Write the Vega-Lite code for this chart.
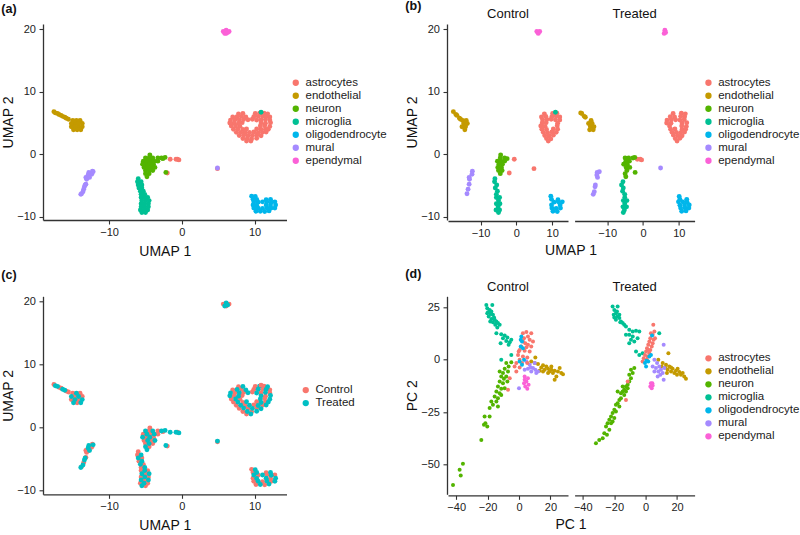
{
"$schema": "https://vega.github.io/schema/vega-lite/v6.json",
"background": "white",
"padding": {"left": 0, "top": 0, "right": 0, "bottom": 0},
"config": {
  "font": "Liberation Sans",
  "view": {"stroke": "transparent"},
  "circle": {"size": 24, "opacity": 1},
  "axis": {"grid": false, "domainColor": "#333333", "domainWidth": 1.3, "tickColor": "#333333", "tickWidth": 1.1, "tickSize": 4, "labelFontSize": 11, "labelColor": "#222222", "titleFontSize": 14, "titleFontWeight": "normal", "titleColor": "#111111"},
  "axisX": {"labelPadding": 2, "titlePadding": 7},
  "axisY": {"labelPadding": 3.5, "titlePadding": 1.5},
  "header": {"labelFontSize": 13, "labelColor": "#111111", "titleFontSize": 14, "titleFontWeight": "normal", "titleColor": "#111111"},
  "legend": {"labelFontSize": 11.5, "labelColor": "#222222", "symbolSize": 40, "symbolType": "circle", "rowPadding": 0, "labelOffset": 4, "padding": 0, "symbolStrokeWidth": 0, "symbolOpacity": 1},
  "title": {"fontSize": 12.5, "fontWeight": "bold", "anchor": "start", "frame": "bounds", "color": "#111111"}
},
"datasets": {
"umap": [
{"x":7.8,"y":6.45,"t":"astrocytes","g":"Control"},{"x":10.1,"y":6.5,"t":"astrocytes","g":"Control"},{"x":11.3,"y":6.55,"t":"astrocytes","g":"Control"},
{"x":7.0,"y":5.95,"t":"astrocytes","g":"Control"},{"x":8.2,"y":6.05,"t":"astrocytes","g":"Control"},{"x":9.9,"y":6.0,"t":"astrocytes","g":"Control"},{"x":11.1,"y":6.1,"t":"astrocytes","g":"Control"},{"x":12.1,"y":5.95,"t":"astrocytes","g":"Control"},
{"x":7.3,"y":5.5,"t":"astrocytes","g":"Control"},{"x":8.5,"y":5.55,"t":"astrocytes","g":"Control"},{"x":9.7,"y":5.6,"t":"astrocytes","g":"Control"},{"x":10.9,"y":5.5,"t":"astrocytes","g":"Control"},{"x":12.1,"y":5.45,"t":"astrocytes","g":"Control"},
{"x":7.2,"y":5.0,"t":"astrocytes","g":"Control"},{"x":8.3,"y":5.05,"t":"astrocytes","g":"Control"},{"x":11.5,"y":4.95,"t":"astrocytes","g":"Control"},
{"x":6.8,"y":4.5,"t":"astrocytes","g":"Control"},{"x":8.0,"y":4.45,"t":"astrocytes","g":"Control"},{"x":11.4,"y":4.55,"t":"astrocytes","g":"Control"},
{"x":7.1,"y":4.0,"t":"astrocytes","g":"Control"},{"x":8.4,"y":3.95,"t":"astrocytes","g":"Control"},{"x":10.3,"y":4.05,"t":"astrocytes","g":"Control"},{"x":11.5,"y":4.0,"t":"astrocytes","g":"Control"},
{"x":7.5,"y":3.5,"t":"astrocytes","g":"Control"},{"x":8.7,"y":3.45,"t":"astrocytes","g":"Control"},{"x":9.9,"y":3.55,"t":"astrocytes","g":"Control"},{"x":11.1,"y":3.5,"t":"astrocytes","g":"Control"},
{"x":7.9,"y":3.0,"t":"astrocytes","g":"Control"},{"x":9.1,"y":2.95,"t":"astrocytes","g":"Control"},{"x":10.3,"y":3.05,"t":"astrocytes","g":"Control"},
{"x":8.4,"y":2.5,"t":"astrocytes","g":"Control"},{"x":9.6,"y":2.45,"t":"astrocytes","g":"Control"},{"x":8.9,"y":2.1,"t":"astrocytes","g":"Control"},
{"x":-0.6,"y":-0.8,"t":"astrocytes","g":"Control"},{"x":-2.0,"y":-3.0,"t":"astrocytes","g":"Control"},{"x":4.9,"y":-2.3,"t":"astrocytes","g":"Control"},
{"x":-17.6,"y":6.8,"t":"endothelial","g":"Control"},{"x":-16.6,"y":6.2,"t":"endothelial","g":"Control"},{"x":-15.6,"y":5.6,"t":"endothelial","g":"Control"},{"x":-16.9,"y":6.35,"t":"endothelial","g":"Control"},{"x":-15.9,"y":5.75,"t":"endothelial","g":"Control"},
{"x":-15.0,"y":5.4,"t":"endothelial","g":"Control"},{"x":-14.0,"y":5.4,"t":"endothelial","g":"Control"},{"x":-14.7,"y":4.9,"t":"endothelial","g":"Control"},{"x":-13.7,"y":4.9,"t":"endothelial","g":"Control"},{"x":-15.2,"y":4.4,"t":"endothelial","g":"Control"},{"x":-14.2,"y":4.4,"t":"endothelial","g":"Control"},{"x":-14.4,"y":3.9,"t":"endothelial","g":"Control"},
{"x":-4.4,"y":-0.1,"t":"neuron","g":"Control"},{"x":-4.5,"y":-0.6,"t":"neuron","g":"Control"},{"x":-3.3,"y":-0.6,"t":"neuron","g":"Control"},{"x":-2.6,"y":-0.7,"t":"neuron","g":"Control"},{"x":-5.3,"y":-1.1,"t":"neuron","g":"Control"},{"x":-4.3,"y":-1.1,"t":"neuron","g":"Control"},{"x":-3.3,"y":-1.1,"t":"neuron","g":"Control"},{"x":-4.9,"y":-1.6,"t":"neuron","g":"Control"},{"x":-3.9,"y":-1.6,"t":"neuron","g":"Control"},{"x":-5.2,"y":-2.1,"t":"neuron","g":"Control"},{"x":-4.2,"y":-2.1,"t":"neuron","g":"Control"},{"x":-5.0,"y":-2.6,"t":"neuron","g":"Control"},{"x":-4.0,"y":-2.6,"t":"neuron","g":"Control"},{"x":-4.5,"y":-3.1,"t":"neuron","g":"Control"},
{"x":-6.0,"y":-3.9,"t":"microglia","g":"Control"},{"x":-6.1,"y":-4.4,"t":"microglia","g":"Control"},{"x":-5.5,"y":-4.9,"t":"microglia","g":"Control"},{"x":-5.9,"y":-5.4,"t":"microglia","g":"Control"},{"x":-5.3,"y":-5.9,"t":"microglia","g":"Control"},{"x":-5.6,"y":-6.4,"t":"microglia","g":"Control"},{"x":-5.6,"y":-6.9,"t":"microglia","g":"Control"},{"x":-4.7,"y":-6.9,"t":"microglia","g":"Control"},{"x":-5.0,"y":-7.4,"t":"microglia","g":"Control"},{"x":-5.6,"y":-7.9,"t":"microglia","g":"Control"},{"x":-4.6,"y":-7.9,"t":"microglia","g":"Control"},{"x":-5.1,"y":-8.4,"t":"microglia","g":"Control"},{"x":-5.7,"y":-8.9,"t":"microglia","g":"Control"},{"x":-4.7,"y":-8.9,"t":"microglia","g":"Control"},{"x":-5.0,"y":-9.3,"t":"microglia","g":"Control"},
{"x":9.6,"y":-6.7,"t":"oligodendrocyte","g":"Control"},{"x":9.8,"y":-7.2,"t":"oligodendrocyte","g":"Control"},{"x":11.6,"y":-7.25,"t":"oligodendrocyte","g":"Control"},{"x":10.5,"y":-7.65,"t":"oligodendrocyte","g":"Control"},{"x":11.7,"y":-7.6,"t":"oligodendrocyte","g":"Control"},{"x":12.8,"y":-7.6,"t":"oligodendrocyte","g":"Control"},{"x":9.8,"y":-8.1,"t":"oligodendrocyte","g":"Control"},{"x":12.2,"y":-8.1,"t":"oligodendrocyte","g":"Control"},{"x":9.9,"y":-8.6,"t":"oligodendrocyte","g":"Control"},{"x":11.1,"y":-8.65,"t":"oligodendrocyte","g":"Control"},{"x":12.3,"y":-8.6,"t":"oligodendrocyte","g":"Control"},{"x":10.2,"y":-9.1,"t":"oligodendrocyte","g":"Control"},{"x":11.4,"y":-9.15,"t":"oligodendrocyte","g":"Control"},
{"x":-12.3,"y":-2.7,"t":"mural","g":"Control"},{"x":-12.4,"y":-3.2,"t":"mural","g":"Control"},{"x":-13.2,"y":-3.7,"t":"mural","g":"Control"},{"x":-13.1,"y":-4.0,"t":"mural","g":"Control"},{"x":-13.2,"y":-4.8,"t":"mural","g":"Control"},{"x":-13.5,"y":-5.6,"t":"mural","g":"Control"},{"x":-13.8,"y":-6.3,"t":"mural","g":"Control"},
{"x":5.7,"y":19.6,"t":"ependymal","g":"Control"},{"x":6.5,"y":19.6,"t":"ependymal","g":"Control"},{"x":6.1,"y":19.3,"t":"ependymal","g":"Control"},
{"x":8.4,"y":6.5,"t":"astrocytes","g":"Treated"},{"x":10.7,"y":6.55,"t":"astrocytes","g":"Treated"},{"x":11.8,"y":6.45,"t":"astrocytes","g":"Treated"},
{"x":7.6,"y":6.0,"t":"astrocytes","g":"Treated"},{"x":8.8,"y":5.95,"t":"astrocytes","g":"Treated"},{"x":10.5,"y":6.05,"t":"astrocytes","g":"Treated"},{"x":11.6,"y":6.0,"t":"astrocytes","g":"Treated"},
{"x":6.7,"y":5.45,"t":"astrocytes","g":"Treated"},{"x":7.9,"y":5.5,"t":"astrocytes","g":"Treated"},{"x":9.1,"y":5.5,"t":"astrocytes","g":"Treated"},{"x":10.3,"y":5.45,"t":"astrocytes","g":"Treated"},{"x":11.5,"y":5.55,"t":"astrocytes","g":"Treated"},
{"x":6.6,"y":5.0,"t":"astrocytes","g":"Treated"},{"x":7.8,"y":4.95,"t":"astrocytes","g":"Treated"},{"x":10.9,"y":5.0,"t":"astrocytes","g":"Treated"},{"x":12.2,"y":5.05,"t":"astrocytes","g":"Treated"},
{"x":7.4,"y":4.5,"t":"astrocytes","g":"Treated"},{"x":10.8,"y":4.5,"t":"astrocytes","g":"Treated"},{"x":12.1,"y":4.45,"t":"astrocytes","g":"Treated"},
{"x":7.7,"y":4.0,"t":"astrocytes","g":"Treated"},{"x":8.9,"y":4.05,"t":"astrocytes","g":"Treated"},{"x":10.9,"y":3.95,"t":"astrocytes","g":"Treated"},{"x":11.9,"y":4.0,"t":"astrocytes","g":"Treated"},
{"x":8.1,"y":3.5,"t":"astrocytes","g":"Treated"},{"x":9.3,"y":3.5,"t":"astrocytes","g":"Treated"},{"x":10.5,"y":3.45,"t":"astrocytes","g":"Treated"},{"x":11.6,"y":3.55,"t":"astrocytes","g":"Treated"},
{"x":8.5,"y":3.05,"t":"astrocytes","g":"Treated"},{"x":9.7,"y":3.0,"t":"astrocytes","g":"Treated"},{"x":10.9,"y":2.95,"t":"astrocytes","g":"Treated"},
{"x":9.0,"y":2.5,"t":"astrocytes","g":"Treated"},{"x":10.3,"y":2.55,"t":"astrocytes","g":"Treated"},{"x":9.5,"y":2.1,"t":"astrocytes","g":"Treated"},
{"x":-1.6,"y":-0.8,"t":"astrocytes","g":"Treated"},{"x":-0.8,"y":-0.8,"t":"astrocytes","g":"Treated"},{"x":-0.4,"y":-0.9,"t":"astrocytes","g":"Treated"},
{"x":-17.4,"y":6.6,"t":"endothelial","g":"Treated"},{"x":-17.1,"y":6.5,"t":"endothelial","g":"Treated"},{"x":-16.1,"y":5.9,"t":"endothelial","g":"Treated"},{"x":-16.4,"y":6.05,"t":"endothelial","g":"Treated"},
{"x":-14.5,"y":5.4,"t":"endothelial","g":"Treated"},{"x":-15.2,"y":4.9,"t":"endothelial","g":"Treated"},{"x":-14.2,"y":4.9,"t":"endothelial","g":"Treated"},{"x":-14.7,"y":4.4,"t":"endothelial","g":"Treated"},{"x":-13.7,"y":4.4,"t":"endothelial","g":"Treated"},{"x":-14.9,"y":3.9,"t":"endothelial","g":"Treated"},{"x":-13.9,"y":3.9,"t":"endothelial","g":"Treated"},
{"x":-5.0,"y":-0.6,"t":"neuron","g":"Treated"},{"x":-4.0,"y":-0.6,"t":"neuron","g":"Treated"},{"x":-2.8,"y":-0.6,"t":"neuron","g":"Treated"},{"x":-2.3,"y":-0.5,"t":"neuron","g":"Treated"},{"x":-4.8,"y":-1.1,"t":"neuron","g":"Treated"},{"x":-3.8,"y":-1.1,"t":"neuron","g":"Treated"},{"x":-5.4,"y":-1.6,"t":"neuron","g":"Treated"},{"x":-4.4,"y":-1.6,"t":"neuron","g":"Treated"},{"x":-4.7,"y":-2.1,"t":"neuron","g":"Treated"},{"x":-3.7,"y":-2.1,"t":"neuron","g":"Treated"},{"x":-4.5,"y":-2.6,"t":"neuron","g":"Treated"},{"x":-5.0,"y":-3.1,"t":"neuron","g":"Treated"},{"x":-4.8,"y":-3.6,"t":"neuron","g":"Treated"},{"x":-2.2,"y":-2.9,"t":"neuron","g":"Treated"},
{"x":-5.6,"y":-4.4,"t":"microglia","g":"Treated"},{"x":-6.0,"y":-4.9,"t":"microglia","g":"Treated"},{"x":-5.5,"y":-5.4,"t":"microglia","g":"Treated"},{"x":-5.7,"y":-5.9,"t":"microglia","g":"Treated"},{"x":-5.1,"y":-6.4,"t":"microglia","g":"Treated"},{"x":-5.1,"y":-6.9,"t":"microglia","g":"Treated"},{"x":-5.5,"y":-7.4,"t":"microglia","g":"Treated"},{"x":-4.5,"y":-7.4,"t":"microglia","g":"Treated"},{"x":-5.1,"y":-7.9,"t":"microglia","g":"Treated"},{"x":-5.6,"y":-8.4,"t":"microglia","g":"Treated"},{"x":-4.6,"y":-8.4,"t":"microglia","g":"Treated"},{"x":-5.2,"y":-8.9,"t":"microglia","g":"Treated"},{"x":-5.5,"y":-9.3,"t":"microglia","g":"Treated"},
{"x":10.1,"y":-6.75,"t":"oligodendrocyte","g":"Treated"},{"x":10.3,"y":-7.2,"t":"oligodendrocyte","g":"Treated"},{"x":12.2,"y":-7.2,"t":"oligodendrocyte","g":"Treated"},{"x":9.9,"y":-7.6,"t":"oligodendrocyte","g":"Treated"},{"x":11.1,"y":-7.6,"t":"oligodendrocyte","g":"Treated"},{"x":12.3,"y":-7.65,"t":"oligodendrocyte","g":"Treated"},{"x":10.3,"y":-8.15,"t":"oligodendrocyte","g":"Treated"},{"x":11.6,"y":-8.1,"t":"oligodendrocyte","g":"Treated"},{"x":12.9,"y":-8.1,"t":"oligodendrocyte","g":"Treated"},{"x":10.5,"y":-8.6,"t":"oligodendrocyte","g":"Treated"},{"x":11.7,"y":-8.55,"t":"oligodendrocyte","g":"Treated"},{"x":12.8,"y":-8.6,"t":"oligodendrocyte","g":"Treated"},{"x":10.8,"y":-9.1,"t":"oligodendrocyte","g":"Treated"},{"x":12.0,"y":-9.05,"t":"oligodendrocyte","g":"Treated"},
{"x":-12.8,"y":-2.9,"t":"mural","g":"Treated"},{"x":-12.9,"y":-3.3,"t":"mural","g":"Treated"},{"x":-12.7,"y":-3.7,"t":"mural","g":"Treated"},{"x":-12.2,"y":-2.8,"t":"mural","g":"Treated"},{"x":-13.4,"y":-5.2,"t":"mural","g":"Treated"},{"x":-13.6,"y":-6.0,"t":"mural","g":"Treated"},{"x":-13.3,"y":-4.9,"t":"mural","g":"Treated"},{"x":-13.9,"y":-6.4,"t":"mural","g":"Treated"},{"x":4.9,"y":-2.2,"t":"mural","g":"Treated"},
{"x":6.1,"y":19.8,"t":"ependymal","g":"Treated"},{"x":5.9,"y":19.3,"t":"ependymal","g":"Treated"},{"x":6.3,"y":19.45,"t":"ependymal","g":"Treated"},
{"x":10.9,"y":6.7,"t":"microglia","g":"Control"}
],
"pca": [
{"x":-20.8,"y":26.2,"t":"microglia","g":"Control"},{"x":-17.0,"y":26.2,"t":"microglia","g":"Control"},{"x":-20.2,"y":24.6,"t":"microglia","g":"Control"},{"x":-18.7,"y":23.8,"t":"microglia","g":"Control"},{"x":-17.6,"y":23.0,"t":"microglia","g":"Control"},{"x":-19.7,"y":22.7,"t":"microglia","g":"Control"},{"x":-18.0,"y":21.8,"t":"microglia","g":"Control"},{"x":-16.6,"y":21.5,"t":"microglia","g":"Control"},{"x":-19.3,"y":20.7,"t":"microglia","g":"Control"},{"x":-15.9,"y":20.2,"t":"microglia","g":"Control"},{"x":-17.6,"y":19.5,"t":"microglia","g":"Control"},{"x":-15.5,"y":19.1,"t":"microglia","g":"Control"},{"x":-14.4,"y":18.3,"t":"microglia","g":"Control"},{"x":-16.6,"y":17.9,"t":"microglia","g":"Control"},{"x":-13.4,"y":17.5,"t":"microglia","g":"Control"},{"x":-15.1,"y":16.7,"t":"microglia","g":"Control"},{"x":-12.3,"y":16.7,"t":"microglia","g":"Control"},{"x":-18.3,"y":18.3,"t":"microglia","g":"Control"},{"x":-20.2,"y":22.2,"t":"microglia","g":"Control"},{"x":-13.8,"y":15.4,"t":"microglia","g":"Control"},{"x":-14.4,"y":12.7,"t":"microglia","g":"Control"},{"x":-11.3,"y":12.2,"t":"microglia","g":"Control"},{"x":-9.1,"y":11.6,"t":"microglia","g":"Control"},{"x":-10.2,"y":10.3,"t":"microglia","g":"Control"},{"x":-7.4,"y":10.6,"t":"microglia","g":"Control"},{"x":-8.1,"y":9.0,"t":"microglia","g":"Control"},{"x":-5.9,"y":8.4,"t":"microglia","g":"Control"},{"x":-6.6,"y":7.1,"t":"microglia","g":"Control"},{"x":-4.9,"y":9.5,"t":"microglia","g":"Control"},{"x":-11.7,"y":7.9,"t":"microglia","g":"Control"},{"x":-4.9,"y":2.3,"t":"microglia","g":"Control"},{"x":-11.3,"y":0.0,"t":"microglia","g":"Control"},
{"x":-8.1,"y":-1.6,"t":"neuron","g":"Control"},{"x":-4.9,"y":-1.2,"t":"neuron","g":"Control"},{"x":-6.6,"y":-3.2,"t":"neuron","g":"Control"},{"x":-9.1,"y":-4.3,"t":"neuron","g":"Control"},{"x":-10.2,"y":-6.4,"t":"neuron","g":"Control"},{"x":-11.3,"y":-8.0,"t":"neuron","g":"Control"},{"x":-9.6,"y":-9.1,"t":"neuron","g":"Control"},{"x":-8.1,"y":-8.0,"t":"neuron","g":"Control"},{"x":-12.3,"y":-10.4,"t":"neuron","g":"Control"},{"x":-10.2,"y":-11.2,"t":"neuron","g":"Control"},{"x":-13.4,"y":-12.8,"t":"neuron","g":"Control"},{"x":-11.3,"y":-13.9,"t":"neuron","g":"Control"},{"x":-9.1,"y":-13.6,"t":"neuron","g":"Control"},{"x":-14.4,"y":-15.2,"t":"neuron","g":"Control"},{"x":-12.3,"y":-16.0,"t":"neuron","g":"Control"},{"x":-15.5,"y":-17.6,"t":"neuron","g":"Control"},{"x":-13.4,"y":-18.4,"t":"neuron","g":"Control"},{"x":-14.4,"y":-20.0,"t":"neuron","g":"Control"},{"x":-16.6,"y":-21.5,"t":"neuron","g":"Control"},{"x":-18.7,"y":-23.1,"t":"neuron","g":"Control"},{"x":-13.4,"y":-22.3,"t":"neuron","g":"Control"},{"x":-21.9,"y":-27.1,"t":"neuron","g":"Control"},{"x":-18.7,"y":-27.1,"t":"neuron","g":"Control"},{"x":-22.3,"y":-31.1,"t":"neuron","g":"Control"},{"x":-20.2,"y":-31.9,"t":"neuron","g":"Control"},{"x":-21.4,"y":-30.3,"t":"neuron","g":"Control"},{"x":-24.0,"y":-38.3,"t":"neuron","g":"Control"},{"x":-35.7,"y":-49.7,"t":"neuron","g":"Control"},{"x":-37.8,"y":-52.6,"t":"neuron","g":"Control"},{"x":-37.1,"y":-55.3,"t":"neuron","g":"Control"},{"x":-42.0,"y":-59.8,"t":"neuron","g":"Control"},{"x":-7.0,"y":-5.6,"t":"neuron","g":"Control"},{"x":-12.3,"y":-5.6,"t":"neuron","g":"Control"},{"x":-7.4,"y":-10.4,"t":"neuron","g":"Control"},{"x":-11.3,"y":-16.8,"t":"neuron","g":"Control"},{"x":-17.6,"y":-20.0,"t":"neuron","g":"Control"},
{"x":10.4,"y":1.1,"t":"endothelial","g":"Control"},{"x":7.8,"y":-0.8,"t":"endothelial","g":"Control"},{"x":12.1,"y":-2.1,"t":"endothelial","g":"Control"},{"x":15.3,"y":-2.7,"t":"endothelial","g":"Control"},{"x":17.4,"y":-3.2,"t":"endothelial","g":"Control"},{"x":18.5,"y":-4.3,"t":"endothelial","g":"Control"},{"x":20.6,"y":-4.8,"t":"endothelial","g":"Control"},{"x":22.7,"y":-5.3,"t":"endothelial","g":"Control"},{"x":24.8,"y":-5.6,"t":"endothelial","g":"Control"},{"x":26.9,"y":-6.4,"t":"endothelial","g":"Control"},{"x":25.9,"y":-4.0,"t":"endothelial","g":"Control"},{"x":21.6,"y":-6.4,"t":"endothelial","g":"Control"},{"x":19.5,"y":-5.6,"t":"endothelial","g":"Control"},{"x":16.3,"y":-4.8,"t":"endothelial","g":"Control"},{"x":14.2,"y":-3.7,"t":"endothelial","g":"Control"},{"x":23.8,"y":-8.0,"t":"endothelial","g":"Control"},{"x":22.7,"y":-9.6,"t":"endothelial","g":"Control"},{"x":28.0,"y":-6.9,"t":"endothelial","g":"Control"},{"x":18.5,"y":-6.4,"t":"endothelial","g":"Control"},{"x":13.1,"y":-5.3,"t":"endothelial","g":"Control"},{"x":10.0,"y":-1.6,"t":"endothelial","g":"Control"},{"x":20.6,"y":-3.2,"t":"endothelial","g":"Control"},{"x":15.3,"y":-5.6,"t":"endothelial","g":"Control"},
{"x":4.7,"y":-0.8,"t":"mural","g":"Control"},{"x":6.8,"y":-2.4,"t":"mural","g":"Control"},{"x":8.9,"y":-4.0,"t":"mural","g":"Control"},{"x":10.4,"y":-4.8,"t":"mural","g":"Control"},{"x":12.1,"y":-5.6,"t":"mural","g":"Control"},{"x":7.8,"y":-5.6,"t":"mural","g":"Control"},{"x":5.7,"y":-4.3,"t":"mural","g":"Control"},{"x":3.6,"y":-4.8,"t":"mural","g":"Control"},{"x":10.0,"y":-1.6,"t":"mural","g":"Control"},{"x":11.0,"y":-6.4,"t":"mural","g":"Control"},{"x":0.0,"y":-13.6,"t":"mural","g":"Control"},{"x":7.4,"y":-3.7,"t":"mural","g":"Control"},
{"x":3.6,"y":-8.0,"t":"ependymal","g":"Control"},{"x":5.7,"y":-8.8,"t":"ependymal","g":"Control"},{"x":4.7,"y":-10.4,"t":"ependymal","g":"Control"},{"x":3.2,"y":-11.2,"t":"ependymal","g":"Control"},{"x":6.1,"y":-12.0,"t":"ependymal","g":"Control"},{"x":4.0,"y":-12.8,"t":"ependymal","g":"Control"},{"x":5.3,"y":-13.9,"t":"ependymal","g":"Control"},{"x":3.6,"y":-9.6,"t":"ependymal","g":"Control"},
{"x":2.5,"y":12.7,"t":"astrocytes","g":"Control"},{"x":4.7,"y":13.2,"t":"astrocytes","g":"Control"},{"x":7.8,"y":12.7,"t":"astrocytes","g":"Control"},{"x":5.7,"y":11.1,"t":"astrocytes","g":"Control"},{"x":3.2,"y":10.3,"t":"astrocytes","g":"Control"},{"x":6.8,"y":9.5,"t":"astrocytes","g":"Control"},{"x":4.0,"y":7.9,"t":"astrocytes","g":"Control"},{"x":5.7,"y":7.1,"t":"astrocytes","g":"Control"},{"x":1.5,"y":6.3,"t":"astrocytes","g":"Control"},{"x":7.8,"y":6.3,"t":"astrocytes","g":"Control"},{"x":0.4,"y":4.7,"t":"astrocytes","g":"Control"},{"x":3.6,"y":4.3,"t":"astrocytes","g":"Control"},{"x":6.8,"y":3.9,"t":"astrocytes","g":"Control"},{"x":-0.6,"y":2.3,"t":"astrocytes","g":"Control"},{"x":2.5,"y":1.5,"t":"astrocytes","g":"Control"},{"x":5.3,"y":1.1,"t":"astrocytes","g":"Control"},{"x":0.4,"y":0.0,"t":"astrocytes","g":"Control"},{"x":-1.7,"y":-1.6,"t":"astrocytes","g":"Control"},{"x":1.9,"y":-1.6,"t":"astrocytes","g":"Control"},{"x":-2.8,"y":-3.2,"t":"astrocytes","g":"Control"},{"x":0.4,"y":-3.7,"t":"astrocytes","g":"Control"},{"x":-5.9,"y":-8.8,"t":"astrocytes","g":"Control"},{"x":-7.0,"y":-14.4,"t":"astrocytes","g":"Control"},{"x":-1.7,"y":-5.6,"t":"astrocytes","g":"Control"},{"x":5.3,"y":-1.6,"t":"astrocytes","g":"Control"},{"x":8.9,"y":8.7,"t":"astrocytes","g":"Control"},{"x":-0.2,"y":3.9,"t":"astrocytes","g":"Control"},{"x":4.7,"y":5.9,"t":"astrocytes","g":"Control"},{"x":2.5,"y":8.7,"t":"astrocytes","g":"Control"},
{"x":1.5,"y":11.1,"t":"oligodendrocyte","g":"Control"},{"x":1.9,"y":8.7,"t":"oligodendrocyte","g":"Control"},{"x":1.1,"y":6.3,"t":"oligodendrocyte","g":"Control"},{"x":2.5,"y":5.5,"t":"oligodendrocyte","g":"Control"},{"x":0.4,"y":-0.8,"t":"oligodendrocyte","g":"Control"},{"x":1.9,"y":-2.4,"t":"oligodendrocyte","g":"Control"},{"x":3.2,"y":0.0,"t":"oligodendrocyte","g":"Control"},{"x":1.1,"y":9.5,"t":"oligodendrocyte","g":"Control"},
{"x":-21.0,"y":25.4,"t":"microglia","g":"Treated"},{"x":-17.8,"y":25.4,"t":"microglia","g":"Treated"},{"x":-19.9,"y":23.8,"t":"microglia","g":"Treated"},{"x":-18.9,"y":22.2,"t":"microglia","g":"Treated"},{"x":-20.3,"y":21.5,"t":"microglia","g":"Treated"},{"x":-17.8,"y":20.7,"t":"microglia","g":"Treated"},{"x":-16.7,"y":19.9,"t":"microglia","g":"Treated"},{"x":-18.9,"y":19.1,"t":"microglia","g":"Treated"},{"x":-15.7,"y":18.3,"t":"microglia","g":"Treated"},{"x":-14.6,"y":17.5,"t":"microglia","g":"Treated"},{"x":-13.6,"y":16.7,"t":"microglia","g":"Treated"},{"x":-16.1,"y":17.9,"t":"microglia","g":"Treated"},{"x":-19.9,"y":20.2,"t":"microglia","g":"Treated"},{"x":-12.5,"y":15.9,"t":"microglia","g":"Treated"},{"x":-16.7,"y":21.5,"t":"microglia","g":"Treated"},{"x":-18.2,"y":23.0,"t":"microglia","g":"Treated"},{"x":-10.4,"y":14.3,"t":"microglia","g":"Treated"},{"x":-8.2,"y":13.5,"t":"microglia","g":"Treated"},{"x":-6.1,"y":13.8,"t":"microglia","g":"Treated"},{"x":-4.0,"y":13.5,"t":"microglia","g":"Treated"},{"x":-10.4,"y":11.9,"t":"microglia","g":"Treated"},{"x":-8.2,"y":11.1,"t":"microglia","g":"Treated"},{"x":-9.3,"y":9.5,"t":"microglia","g":"Treated"},{"x":-7.2,"y":8.7,"t":"microglia","g":"Treated"},{"x":-10.4,"y":7.9,"t":"microglia","g":"Treated"},{"x":-5.1,"y":10.3,"t":"microglia","g":"Treated"},{"x":-6.1,"y":3.9,"t":"microglia","g":"Treated"},{"x":-4.0,"y":2.3,"t":"microglia","g":"Treated"},{"x":-1.9,"y":3.1,"t":"microglia","g":"Treated"},{"x":-12.5,"y":11.9,"t":"microglia","g":"Treated"},{"x":8.7,"y":12.7,"t":"microglia","g":"Treated"},
{"x":-7.2,"y":-4.0,"t":"neuron","g":"Treated"},{"x":-8.2,"y":-6.4,"t":"neuron","g":"Treated"},{"x":-9.3,"y":-8.8,"t":"neuron","g":"Treated"},{"x":-10.4,"y":-10.4,"t":"neuron","g":"Treated"},{"x":-11.4,"y":-12.0,"t":"neuron","g":"Treated"},{"x":-12.5,"y":-12.8,"t":"neuron","g":"Treated"},{"x":-13.6,"y":-14.4,"t":"neuron","g":"Treated"},{"x":-14.6,"y":-15.2,"t":"neuron","g":"Treated"},{"x":-15.7,"y":-16.0,"t":"neuron","g":"Treated"},{"x":-12.5,"y":-15.2,"t":"neuron","g":"Treated"},{"x":-15.7,"y":-18.4,"t":"neuron","g":"Treated"},{"x":-16.7,"y":-19.2,"t":"neuron","g":"Treated"},{"x":-17.8,"y":-20.8,"t":"neuron","g":"Treated"},{"x":-18.9,"y":-21.5,"t":"neuron","g":"Treated"},{"x":-16.7,"y":-22.3,"t":"neuron","g":"Treated"},{"x":-19.9,"y":-23.9,"t":"neuron","g":"Treated"},{"x":-21.0,"y":-25.5,"t":"neuron","g":"Treated"},{"x":-18.9,"y":-24.7,"t":"neuron","g":"Treated"},{"x":-22.0,"y":-27.1,"t":"neuron","g":"Treated"},{"x":-19.9,"y":-27.9,"t":"neuron","g":"Treated"},{"x":-23.1,"y":-28.7,"t":"neuron","g":"Treated"},{"x":-24.2,"y":-30.3,"t":"neuron","g":"Treated"},{"x":-22.0,"y":-30.3,"t":"neuron","g":"Treated"},{"x":-25.2,"y":-31.9,"t":"neuron","g":"Treated"},{"x":-23.1,"y":-33.5,"t":"neuron","g":"Treated"},{"x":-26.3,"y":-35.1,"t":"neuron","g":"Treated"},{"x":-24.6,"y":-35.9,"t":"neuron","g":"Treated"},{"x":-27.3,"y":-37.5,"t":"neuron","g":"Treated"},{"x":-29.5,"y":-38.3,"t":"neuron","g":"Treated"},{"x":-31.6,"y":-39.9,"t":"neuron","g":"Treated"},{"x":-17.8,"y":-15.2,"t":"neuron","g":"Treated"},{"x":-13.6,"y":-16.8,"t":"neuron","g":"Treated"},{"x":-11.4,"y":-13.6,"t":"neuron","g":"Treated"},{"x":-14.6,"y":-12.8,"t":"neuron","g":"Treated"},{"x":-21.0,"y":-29.5,"t":"neuron","g":"Treated"},{"x":-10.4,"y":-7.2,"t":"neuron","g":"Treated"},{"x":-9.3,"y":-4.8,"t":"neuron","g":"Treated"},
{"x":14.5,"y":3.1,"t":"endothelial","g":"Treated"},{"x":8.1,"y":0.0,"t":"endothelial","g":"Treated"},{"x":10.9,"y":-1.6,"t":"endothelial","g":"Treated"},{"x":13.0,"y":-2.4,"t":"endothelial","g":"Treated"},{"x":15.1,"y":-3.2,"t":"endothelial","g":"Treated"},{"x":17.2,"y":-4.3,"t":"endothelial","g":"Treated"},{"x":19.3,"y":-5.3,"t":"endothelial","g":"Treated"},{"x":21.5,"y":-5.9,"t":"endothelial","g":"Treated"},{"x":23.6,"y":-6.4,"t":"endothelial","g":"Treated"},{"x":25.7,"y":-9.1,"t":"endothelial","g":"Treated"},{"x":24.6,"y":-8.0,"t":"endothelial","g":"Treated"},{"x":20.0,"y":-7.2,"t":"endothelial","g":"Treated"},{"x":16.2,"y":-5.6,"t":"endothelial","g":"Treated"},{"x":14.0,"y":-4.8,"t":"endothelial","g":"Treated"},{"x":12.4,"y":-3.7,"t":"endothelial","g":"Treated"},{"x":18.3,"y":-6.4,"t":"endothelial","g":"Treated"},{"x":22.5,"y":-7.2,"t":"endothelial","g":"Treated"},{"x":10.2,"y":-3.2,"t":"endothelial","g":"Treated"},{"x":13.6,"y":-6.4,"t":"endothelial","g":"Treated"},{"x":16.2,"y":-3.7,"t":"endothelial","g":"Treated"},{"x":20.4,"y":-4.3,"t":"endothelial","g":"Treated"},
{"x":5.6,"y":0.0,"t":"mural","g":"Treated"},{"x":7.3,"y":-1.6,"t":"mural","g":"Treated"},{"x":8.7,"y":-3.2,"t":"mural","g":"Treated"},{"x":6.6,"y":-4.0,"t":"mural","g":"Treated"},{"x":9.8,"y":-4.8,"t":"mural","g":"Treated"},{"x":8.1,"y":-5.6,"t":"mural","g":"Treated"},{"x":10.9,"y":-6.4,"t":"mural","g":"Treated"},{"x":9.4,"y":-7.2,"t":"mural","g":"Treated"},{"x":5.6,"y":-5.6,"t":"mural","g":"Treated"},{"x":4.5,"y":-3.2,"t":"mural","g":"Treated"},{"x":11.9,"y":-4.0,"t":"mural","g":"Treated"},{"x":11.5,"y":7.1,"t":"mural","g":"Treated"},{"x":11.5,"y":-9.6,"t":"mural","g":"Treated"},{"x":7.7,"y":-8.0,"t":"mural","g":"Treated"},
{"x":3.4,"y":-11.2,"t":"ependymal","g":"Treated"},{"x":4.5,"y":-12.3,"t":"ependymal","g":"Treated"},{"x":3.0,"y":-12.8,"t":"ependymal","g":"Treated"},{"x":3.9,"y":-13.6,"t":"ependymal","g":"Treated"},{"x":4.3,"y":-11.3,"t":"ependymal","g":"Treated"},
{"x":4.9,"y":16.7,"t":"astrocytes","g":"Treated"},{"x":3.4,"y":12.7,"t":"astrocytes","g":"Treated"},{"x":4.5,"y":11.9,"t":"astrocytes","g":"Treated"},{"x":3.0,"y":10.3,"t":"astrocytes","g":"Treated"},{"x":5.1,"y":9.5,"t":"astrocytes","g":"Treated"},{"x":2.4,"y":8.7,"t":"astrocytes","g":"Treated"},{"x":4.5,"y":7.9,"t":"astrocytes","g":"Treated"},{"x":1.7,"y":7.1,"t":"astrocytes","g":"Treated"},{"x":3.9,"y":6.3,"t":"astrocytes","g":"Treated"},{"x":0.9,"y":5.5,"t":"astrocytes","g":"Treated"},{"x":3.0,"y":4.7,"t":"astrocytes","g":"Treated"},{"x":0.3,"y":3.9,"t":"astrocytes","g":"Treated"},{"x":2.4,"y":3.1,"t":"astrocytes","g":"Treated"},{"x":-0.4,"y":2.3,"t":"astrocytes","g":"Treated"},{"x":1.3,"y":1.5,"t":"astrocytes","g":"Treated"},{"x":-1.2,"y":0.7,"t":"astrocytes","g":"Treated"},{"x":0.9,"y":0.0,"t":"astrocytes","g":"Treated"},{"x":-1.9,"y":-0.8,"t":"astrocytes","g":"Treated"},{"x":5.6,"y":13.5,"t":"astrocytes","g":"Treated"},{"x":-11.4,"y":-10.4,"t":"astrocytes","g":"Treated"},{"x":-12.5,"y":-19.2,"t":"astrocytes","g":"Treated"},{"x":6.0,"y":10.3,"t":"astrocytes","g":"Treated"},{"x":1.7,"y":4.7,"t":"astrocytes","g":"Treated"},
{"x":4.1,"y":11.6,"t":"oligodendrocyte","g":"Treated"},{"x":2.4,"y":1.5,"t":"oligodendrocyte","g":"Treated"},{"x":0.5,"y":-0.5,"t":"oligodendrocyte","g":"Treated"},{"x":-0.4,"y":-1.6,"t":"oligodendrocyte","g":"Treated"},{"x":0.3,"y":-3.2,"t":"oligodendrocyte","g":"Treated"},{"x":1.7,"y":-0.8,"t":"oligodendrocyte","g":"Treated"},{"x":3.4,"y":2.3,"t":"oligodendrocyte","g":"Treated"}
]
},
"bounds": "flush",
"spacing": 272.3,
"resolve": {"scale": {"color": "independent"}, "legend": {"color": "independent"}},
"vconcat": [
 {
  "hconcat": [
   {
    "data": {"name": "umap"},
    "title": {"text": "(a)", "offset": 8},
    "width": 243.5, "height": 196,
    "mark": "circle",
    "encoding": {
      "x": {"field": "x", "type": "quantitative", "scale": {"domain": [-19.1, 14.4], "nice": false, "zero": false}, "axis": {"values": [-10, 0, 10], "title": "UMAP 1"}},
      "y": {"field": "y", "type": "quantitative", "scale": {"domain": [-10.5, 20.8], "nice": false, "zero": false}, "axis": {"values": [-10, 0, 10, 20], "title": "UMAP 2"}},
      "color": {"field": "t", "type": "nominal", "scale": {"domain": ["astrocytes","endothelial","neuron","microglia","oligodendrocyte","mural","ependymal"], "range": ["#F8766D","#C49A00","#53B400","#00C094","#00B6EB","#A58AFF","#FB61D7"]}, "legend": {"title": null, "orient": "none", "legendX": 247, "legendY": 53}}
    }
   },
   {
    "data": {"name": "umap"},
    "title": {"text": "(b)", "offset": -5},
    "spacing": 4.6,
    "facet": {"column": {"field": "g", "type": "nominal", "header": {"title": "UMAP 1", "titleOrient": "bottom", "labelOrient": "top", "labelPadding": 2.5, "titlePadding": -4}}},
    "spec": {
      "width": 120, "height": 196,
      "mark": "circle",
      "encoding": {
        "x": {"field": "x", "type": "quantitative", "scale": {"domain": [-19.1, 14.4], "nice": false, "zero": false}, "axis": {"values": [-10, 0, 10], "title": null}},
        "y": {"field": "y", "type": "quantitative", "scale": {"domain": [-10.5, 20.8], "nice": false, "zero": false}, "axis": {"values": [-10, 0, 10, 20], "title": "UMAP 2"}},
        "color": {"field": "t", "type": "nominal", "scale": {"domain": ["astrocytes","endothelial","neuron","microglia","oligodendrocyte","mural","ependymal"], "range": ["#F8766D","#C49A00","#53B400","#00C094","#00B6EB","#A58AFF","#FB61D7"]}, "legend": {"title": null, "orient": "none", "legendX": 254.7, "legendY": 53}}
      }
    }
   }
  ],
  "bounds": "flush",
  "spacing": 161,
  "resolve": {"scale": {"color": "independent"}, "legend": {"color": "independent"}}
 },
 {
  "hconcat": [
   {
    "data": {"name": "umap"},
    "title": {"text": "(c)", "offset": 14},
    "width": 243.5, "height": 198,
    "mark": "circle",
    "encoding": {
      "x": {"field": "x", "type": "quantitative", "scale": {"domain": [-19.1, 14.4], "nice": false, "zero": false}, "axis": {"values": [-10, 0, 10], "title": "UMAP 1"}},
      "y": {"field": "y", "type": "quantitative", "scale": {"domain": [-10.67, 20.84], "nice": false, "zero": false}, "axis": {"values": [-10, 0, 10, 20], "title": "UMAP 2"}},
      "color": {"field": "g", "type": "nominal", "scale": {"domain": ["Control","Treated"], "range": ["#F8766D","#00BFC4"]}, "legend": {"title": null, "orient": "none", "legendX": 257, "legendY": 88}}
    }
   },
   {
    "data": {"name": "pca"},
    "title": {"text": "(d)", "offset": 1},
    "spacing": 4.6,
    "facet": {"column": {"field": "g", "type": "nominal", "header": {"title": "PC 1", "titleOrient": "bottom", "labelOrient": "top", "labelPadding": 1, "titlePadding": -4}}},
    "spec": {
      "width": 120, "height": 198,
      "mark": {"type": "circle", "size": 16},
      "encoding": {
        "x": {"field": "x", "type": "quantitative", "scale": {"domain": [-45.2, 31.2], "nice": false, "zero": false}, "axis": {"values": [-40, -20, 0, 20], "title": null}},
        "y": {"field": "y", "type": "quantitative", "scale": {"domain": [-64.3, 30.3], "nice": false, "zero": false}, "axis": {"values": [-50, -25, 0, 25], "title": "PC 2"}},
        "color": {"field": "t", "type": "nominal", "scale": {"domain": ["astrocytes","endothelial","neuron","microglia","oligodendrocyte","mural","ependymal"], "range": ["#F8766D","#C49A00","#53B400","#00C094","#00B6EB","#A58AFF","#FB61D7"]}, "legend": {"title": null, "orient": "none", "legendX": 254.7, "legendY": 56.3}}
      }
    }
   }
  ],
  "bounds": "flush",
  "spacing": 161,
  "resolve": {"scale": {"color": "independent"}, "legend": {"color": "independent"}}
 }
]
}
